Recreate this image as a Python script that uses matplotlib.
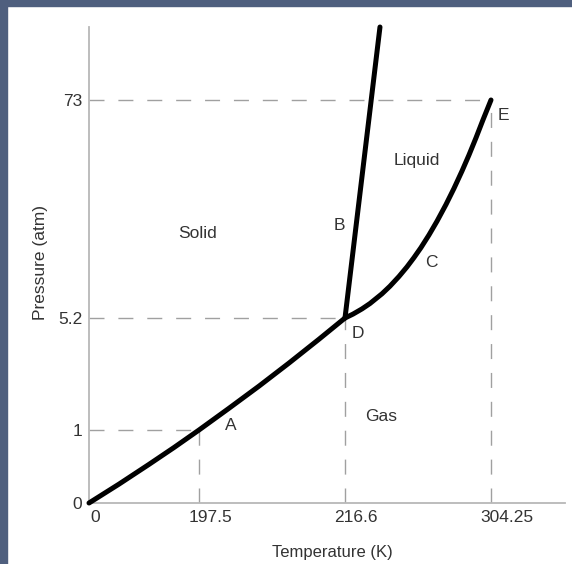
import numpy as np
import matplotlib
matplotlib.use("Agg")
import matplotlib.pyplot as plt
from matplotlib.patches import Rectangle

plt.rcParams['font.family'] = ['Liberation Sans', 'DejaVu Sans']

# === DATEN (CO2 Phasendiagramm, schematisch) ===
T_TICKS = [0, 197.5, 216.6, 304.25]
T_LABELS = ["0", "197.5", "216.6", "304.25"]
P_TICKS = [0, 1, 5.2, 73]
P_LABELS = ["0", "1", "5.2", "73"]

# Sublimationskurve (0,0) -> A -> D
subl_T = [0, 53.9, 107.7, 152.6, 197.5, 201.4, 205.35, 209.27, 213.2, 216.6]
subl_P = [0, 0.259, 0.529, 0.760, 1.0, 1.81, 2.646, 3.51, 4.405, 5.2]

# Schmelzkurve D -> B -> oben
melt_T = [216.6, 237.6]
melt_P = [5.2, 95.7]

# Siedekurve D -> C -> E (kritischer Punkt)
vap_T = [216.6, 221.4, 226.8, 231.6, 238.8, 243.6, 249.0, 253.8, 258.0, 262.2,
         267.0, 271.8, 277.2, 282.0, 286.8, 291.0, 295.2, 299.4, 304.25]
vap_P = [5.2, 6.41, 8.03, 9.71, 12.73, 15.09, 18.11, 21.09, 23.98, 27.09,
         31.01, 35.27, 40.47, 45.48, 50.86, 55.86, 61.18, 66.78, 73]

# Beschriftungen (Text, T, P)
region_labels = ["Solid", "Liquid", "Gas"]
region_T = [195.7, 259.8, 238.2]
region_P = [31.6, 54.3, 1.49]

point_labels = ["A", "B", "C", "D", "E"]
point_T = [201.6, 215.8, 268.2, 224.4, 311.5]
point_P = [1.15, 34.1, 22.6, 4.6, 68.3]

# === SKALA: Ticks sind nicht linear verteilt ===
X_POS = [0, 110, 256, 402]
Y_POS = [0, 73, 185, 403]


def make_scale(vals, pos):
    vals = np.asarray(vals, float)
    pos = np.asarray(pos, float)
    slope = (pos[-1] - pos[-2]) / (vals[-1] - vals[-2])

    def fwd(v):
        v = np.asarray(v, float)
        return np.where(v <= vals[-1], np.interp(v, vals, pos),
                        pos[-1] + (v - vals[-1]) * slope)

    def inv(p):
        p = np.asarray(p, float)
        return np.where(p <= pos[-1], np.interp(p, pos, vals),
                        vals[-1] + (p - pos[-1]) / slope)
    return fwd, inv


fx, ix = make_scale(T_TICKS, X_POS)
fy, iy = make_scale(P_TICKS, Y_POS)

TEXT = "#333333"
DASH = "#a0a0a0"

fig = plt.figure(figsize=(5.72, 5.64), dpi=100)
fig.patch.set_facecolor("white")
# Rahmen oben und links
fig.patches.append(Rectangle((0, 1 - 6 / 564), 1, 6 / 564, transform=fig.transFigure,
                             color="#4f5f7e", zorder=-1))
fig.patches.append(Rectangle((0, 0), 7 / 572, 1, transform=fig.transFigure,
                             color="#4f5f7e", zorder=-1))

ax = fig.add_axes([89 / 572, 61 / 564, 476 / 572, 476 / 564])
ax.set_xscale("function", functions=(fx, ix))
ax.set_yscale("function", functions=(fy, iy))
ax.set_xlim(0, float(ix(476)))
ax.set_ylim(0, float(iy(476)))

for s in ["top", "right"]:
    ax.spines[s].set_visible(False)
for s in ["left", "bottom"]:
    ax.spines[s].set_color("#b8b8b8")
    ax.spines[s].set_linewidth(1.3)

# gestrichelte Hilfslinien
for t, p in zip(T_TICKS[1:], P_TICKS[1:]):
    ax.plot([0, t], [p, p], color=DASH, lw=1.0, dashes=(10.8, 10), zorder=1)
    ax.plot([t, t], [0, p], color=DASH, lw=1.0, dashes=(10.8, 10), zorder=1)

# Phasengrenzen
for T, P in [(subl_T, subl_P), (melt_T, melt_P), (vap_T, vap_P)]:
    ax.plot(T, P, color="black", lw=3.6, solid_capstyle="round",
            solid_joinstyle="round", clip_on=False, zorder=3)

# Achsenbeschriftung
ax.set_xticks([])
ax.set_yticks(P_TICKS, labels=P_LABELS)
ax.tick_params(axis="y", length=0, pad=5, labelsize=12.5, labelcolor=TEXT)
x_offsets = [1, -10, -11, -11]
for t, lab, dx in zip(T_TICKS, T_LABELS, x_offsets):
    ax.annotate(lab, (t, 0), xytext=(dx, -7), textcoords="offset pixels",
                ha="left", va="top", fontsize=12.5, color=TEXT, annotation_clip=False)

for lab, t, p in zip(region_labels, region_T, region_P):
    ax.text(t, p, lab, ha="center", va="center", fontsize=12.5, color=TEXT)
for lab, t, p in zip(point_labels, point_T, point_P):
    ax.text(t, p, lab, ha="center", va="center", fontsize=12.5, color=TEXT)

fig.text(332 / 572, 1 - 553 / 564, "Temperature (K)", ha="center", va="center",
         fontsize=12, color=TEXT)
fig.text(41 / 572, 1 - 263 / 564, "Pressure (atm)", ha="center", va="center",
         rotation=90, fontsize=12.5, color=TEXT)

fig.savefig("out.png", dpi=100)
